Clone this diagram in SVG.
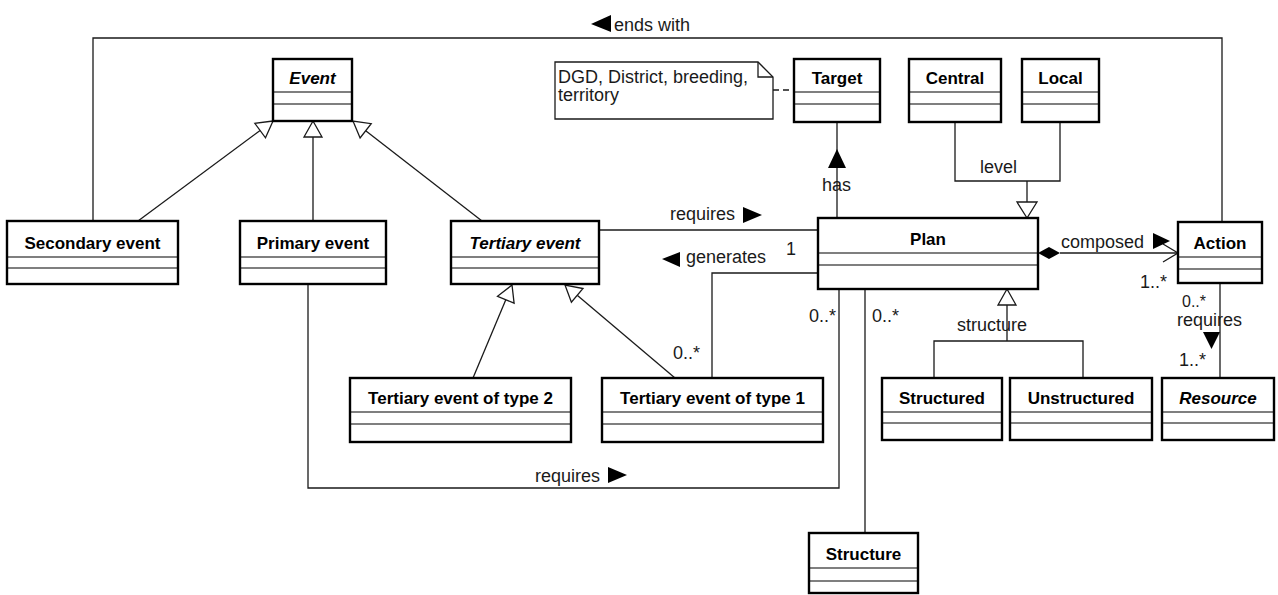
<svg xmlns="http://www.w3.org/2000/svg" width="1278" height="595" viewBox="0 0 1278 595">
  <style>
    .box { fill: #fff; stroke: #000; stroke-width: 2.4; }
    .div { stroke: #000; stroke-width: 1.2; fill: none; }
    .name { font-family: "Liberation Sans", Arial, sans-serif; font-size: 17px; font-weight: bold; fill: #000; text-anchor: middle; }
    .abs { font-style: italic; }
    .lbl { font-family: "Liberation Sans", Arial, sans-serif; font-size: 18px; fill: #1a1a1a; }
    .sm { font-size: 16px; }
    .ln { fill: none; stroke: #1a1a1a; stroke-width: 1.3; }
    .gen { fill: #fff; stroke: #1a1a1a; stroke-width: 1.3; }
    .dir { fill: #000; stroke: none; }
    .note { fill: #fff; stroke: #1a1a1a; stroke-width: 1.3; }
  </style>

  <!-- connectors -->
  <g id="connectors">
    <!-- Secondary event ends with Action -->
    <path class="ln" d="M93,221 V38 H1222 V222"/>
    <polygon class="dir" points="591,24 611,15 611,32"/>
    <text class="lbl" x="614" y="31">ends with</text>

    <!-- generalizations to Event -->
    <path class="ln" d="M138,221 L260.1,130.5"/>
    <polygon class="gen" points="273,121 254.8,123.3 265.5,137.8"/>
    <path class="ln" d="M313,221 V137"/>
    <polygon class="gen" points="313,121 304,137 322,137"/>
    <path class="ln" d="M482,221 L365.7,130.8"/>
    <polygon class="gen" points="353,121 360.1,137.9 371.2,123.7"/>

    <!-- generalizations to Tertiary event -->
    <path class="ln" d="M473,378 L505.8,299.8"/>
    <polygon class="gen" points="512,285 497.5,296.3 514.1,303.2"/>
    <path class="ln" d="M675,378 L577.2,295.3"/>
    <polygon class="gen" points="565,285 571.4,302.2 583,288.5"/>

    <!-- Tertiary event requires Plan -->
    <path class="ln" d="M599,230 H818"/>
    <text class="lbl" x="670" y="220">requires</text>
    <polygon class="dir" points="743,207 743,223 762,215"/>
    <text class="lbl" x="786" y="255">1</text>

    <!-- Plan generates Tertiary event of type 1 -->
    <path class="ln" d="M818,273 H712 V378"/>
    <polygon class="dir" points="662,259 680,252 680,267"/>
    <text class="lbl" x="686" y="263">generates</text>
    <text class="lbl" x="673" y="359">0..*</text>

    <!-- Primary event requires Plan -->
    <path class="ln" d="M308,284 V488 H839 V289"/>
    <text class="lbl" x="535" y="482">requires</text>
    <polygon class="dir" points="608,467 608,483 627,475"/>
    <text class="lbl" x="809" y="322">0..*</text>

    <!-- Plan to Structure -->
    <path class="ln" d="M865,289 V533"/>
    <text class="lbl" x="872" y="322">0..*</text>

    <!-- note anchor -->
    <path class="ln" d="M773,90 H794" stroke-dasharray="6,4"/>

    <!-- Plan has Target -->
    <path class="ln" d="M837,122 V218"/>
    <polygon class="dir" points="837,149 828,168 846,168"/>
    <text class="lbl" x="822" y="191">has</text>

    <!-- level generalization -->
    <path class="ln" d="M955,122 V181 H1060 V122"/>
    <path class="ln" d="M1027,181 V202"/>
    <polygon class="gen" points="1027,218 1017,202 1037,202"/>
    <text class="lbl" x="980" y="173">level</text>

    <!-- structure generalization -->
    <path class="ln" d="M934,378 V341 H1083 V378"/>
    <path class="ln" d="M1007,341 V305"/>
    <polygon class="gen" points="1007,289 998,305 1016,305"/>
    <text class="lbl" x="957" y="331">structure</text>

    <!-- Plan composed of Action -->
    <path class="ln" d="M1060,253 H1178"/>
    <polygon class="dir" points="1038,253 1049,247 1060,253 1049,259"/>
    <path class="ln" d="M1163,244 L1178,253 L1163,262"/>
    <text class="lbl" x="1061" y="248">composed</text>
    <polygon class="dir" points="1153,233 1153,249 1170,241"/>
    <text class="lbl" x="1140" y="288">1..*</text>

    <!-- Action requires Resource -->
    <path class="ln" d="M1220,283 V378"/>
    <text class="lbl sm" x="1182" y="307">0..*</text>
    <text class="lbl" x="1177" y="326">requires</text>
    <polygon class="dir" points="1203,332 1220,332 1211.5,349"/>
    <text class="lbl" x="1179" y="366">1..*</text>
  </g>

  <!-- note -->
  <g id="note">
    <path class="note" d="M555,62 H758 L773,77 V119 H555 Z"/>
    <path class="ln" d="M758,62 V77 H773"/>
    <text class="lbl" x="558" y="83">DGD, District, breeding,</text>
    <text class="lbl" x="558" y="101">territory</text>
  </g>

  <!-- classes -->
  <g id="event">
    <rect class="box" x="273" y="59" width="79" height="62"/>
    <path class="div" d="M273,92 H352 M273,104 H352"/>
    <text class="name abs" x="312.5" y="84">Event</text>
  </g>
  <g id="secondary-event">
    <rect class="box" x="7" y="221" width="171" height="63"/>
    <path class="div" d="M7,257 H178 M7,268 H178"/>
    <text class="name" x="92.5" y="249">Secondary event</text>
  </g>
  <g id="primary-event">
    <rect class="box" x="240" y="221" width="146" height="63"/>
    <path class="div" d="M240,257 H386 M240,268 H386"/>
    <text class="name" x="313" y="249">Primary event</text>
  </g>
  <g id="tertiary-event">
    <rect class="box" x="451" y="221" width="148" height="63"/>
    <path class="div" d="M451,257 H599 M451,268 H599"/>
    <text class="name abs" x="525" y="249">Tertiary event</text>
  </g>
  <g id="target">
    <rect class="box" x="794" y="59" width="86" height="63"/>
    <path class="div" d="M794,92 H880 M794,104 H880"/>
    <text class="name" x="837" y="84">Target</text>
  </g>
  <g id="central">
    <rect class="box" x="909" y="59" width="92" height="63"/>
    <path class="div" d="M909,92 H1001 M909,104 H1001"/>
    <text class="name" x="955" y="84">Central</text>
  </g>
  <g id="local">
    <rect class="box" x="1022" y="59" width="77" height="63"/>
    <path class="div" d="M1022,92 H1099 M1022,104 H1099"/>
    <text class="name" x="1060.5" y="84">Local</text>
  </g>
  <g id="plan">
    <rect class="box" x="818" y="218" width="220" height="71"/>
    <path class="div" d="M818,253 H1038 M818,265 H1038"/>
    <text class="name" x="928" y="245">Plan</text>
  </g>
  <g id="action">
    <rect class="box" x="1178" y="222" width="84" height="61"/>
    <path class="div" d="M1178,257 H1262 M1178,269 H1262"/>
    <text class="name" x="1220" y="249">Action</text>
  </g>
  <g id="tertiary-event-type-2">
    <rect class="box" x="350" y="378" width="221" height="64"/>
    <path class="div" d="M350,412 H571 M350,424 H571"/>
    <text class="name" x="460.5" y="404">Tertiary event of type 2</text>
  </g>
  <g id="tertiary-event-type-1">
    <rect class="box" x="602" y="378" width="221" height="64"/>
    <path class="div" d="M602,412 H823 M602,424 H823"/>
    <text class="name" x="712.5" y="404">Tertiary event of type 1</text>
  </g>
  <g id="structured">
    <rect class="box" x="882" y="378" width="120" height="62"/>
    <path class="div" d="M882,412 H1002 M882,423 H1002"/>
    <text class="name" x="942" y="404">Structured</text>
  </g>
  <g id="unstructured">
    <rect class="box" x="1010" y="378" width="142" height="62"/>
    <path class="div" d="M1010,412 H1152 M1010,423 H1152"/>
    <text class="name" x="1081" y="404">Unstructured</text>
  </g>
  <g id="resource">
    <rect class="box" x="1162" y="378" width="112" height="62"/>
    <path class="div" d="M1162,412 H1274 M1162,423 H1274"/>
    <text class="name abs" x="1218" y="404">Resource</text>
  </g>
  <g id="structure">
    <rect class="box" x="809" y="533" width="109" height="60"/>
    <path class="div" d="M809,568 H918 M809,581 H918"/>
    <text class="name" x="863.5" y="560">Structure</text>
  </g>
</svg>
